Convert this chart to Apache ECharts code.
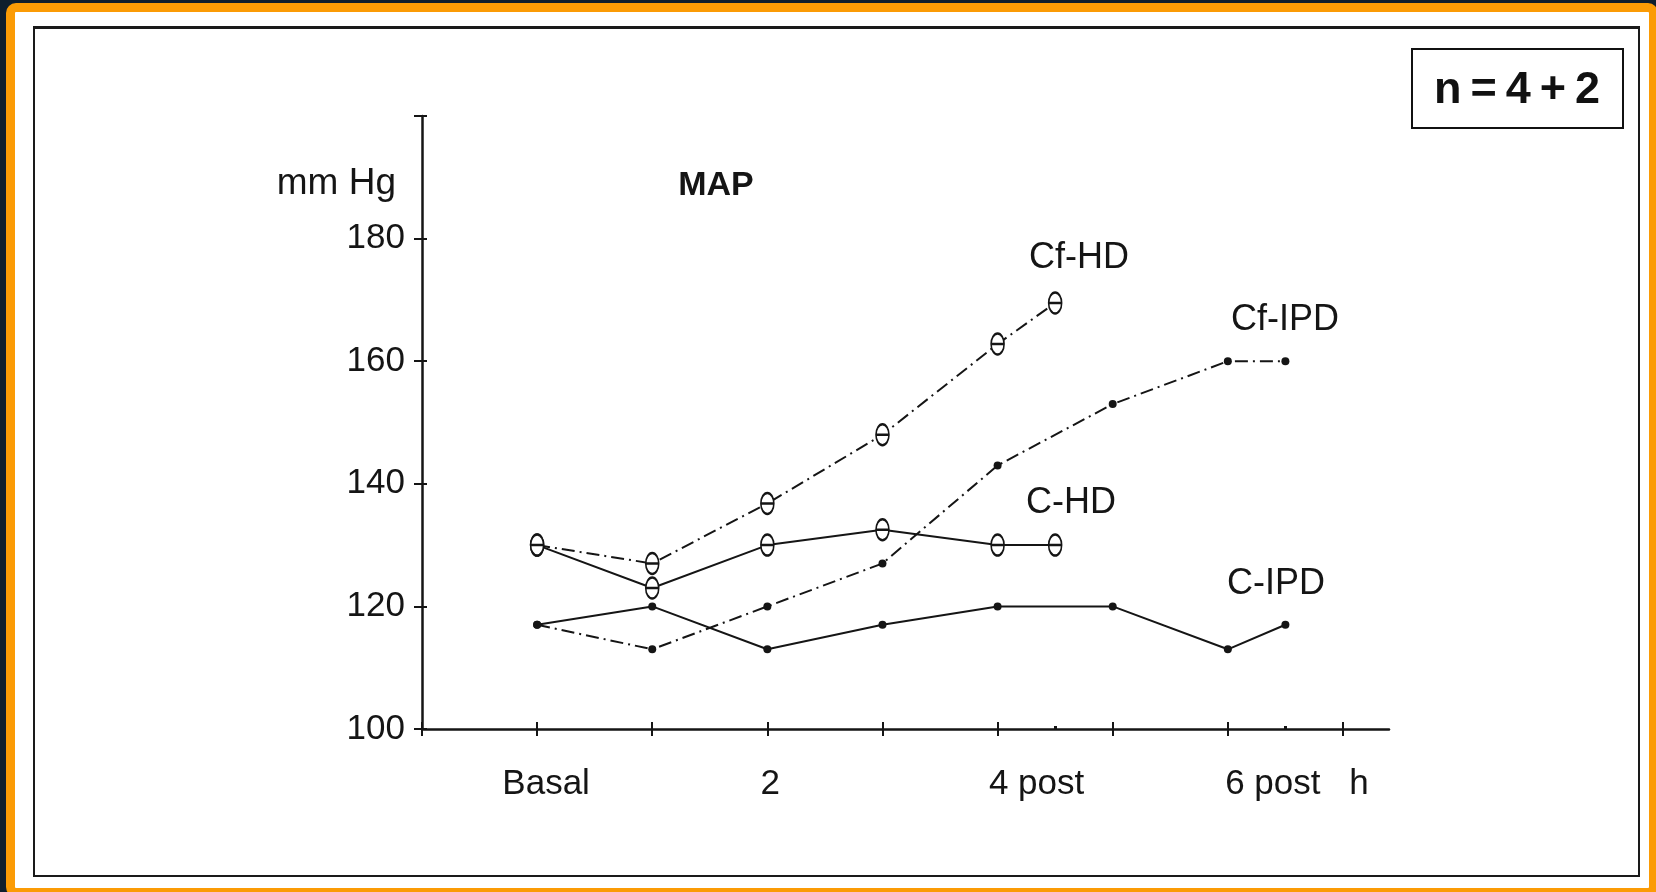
<!DOCTYPE html>
<html><head><meta charset="utf-8">
<script src="https://cdn.jsdelivr.net/npm/echarts@6/dist/echarts.min.js"></script>
<style>
html,body{margin:0;padding:0;width:1656px;height:892px;overflow:hidden;background:#0f1e2d;}
#frame{position:absolute;left:6px;top:3px;width:1652px;height:894px;box-sizing:border-box;border:9px solid #fb9b05;border-radius:10px;background:#fff;}
#inner{position:absolute;left:33px;top:26px;width:1607px;height:851px;box-sizing:border-box;border:2px solid #1a1a1a;border-top-width:3px;}
#chart{position:absolute;left:0;top:0;width:1656px;height:892px;}
</style></head><body>
<div id="frame"></div><div id="inner"></div><div id="chart"></div>
<script>
// ---- data ----
const hoursHD = [0, 1, 2, 3, 4, 4.5];
const hoursIPD = [0, 1, 2, 3, 4, 5, 6, 6.5];
const cHD = [130, 123, 130, 132.5, 130, 130];
const cfHD = [130, 127, 136.8, 148, 162.8, 169.5];
const cIPD = [117, 120, 113, 117, 120, 120, 113, 117];
const cfIPD = [117, 113, 120, 127, 143, 153, 160, 160];
const seriesNames = ['C-HD', 'Cf-HD', 'C-IPD', 'Cf-IPD'];
const xTickValues = [-1, 0, 1, 2, 3, 4, 5, 6, 7];
const xMinorTickValues = [4.5, 6.5];
const xLabelValues = [0, 2, 4, 6];
const xLabelTexts = ['Basal', '2', '4 post', '6 post'];
const yLabelValues = [100, 120, 140, 160, 180];
const yUnit = 'mm Hg';
const xUnit = 'h';
const chartTitle = 'MAP';
const nNote = 'n\u2009=\u20094\u2009+\u20092';

// ---- styling ----
const INK = '#151515';
const FONT = "'Liberation Sans', Arial, sans-serif";
const FS = 35;
const AFS = 36;
const ovalPath = 'path://M6 0C9.31 0 12 4.48 12 10C12 15.52 9.31 20 6 20C2.69 20 0 15.52 0 10C0 4.48 2.69 0 6 0ZM0 10L12 10';
const dashDot = [13, 5, 2, 5];

function zip(xs, ys) { return xs.map((x, i) => [x, ys[i]]); }

const chart = echarts.init(document.getElementById('chart'), null, {renderer: 'canvas'});

const xBase = {type: 'value', min: -1, max: 7.4, interval: 1, gridIndex: 0, position: 'bottom',
  splitLine: {show: false}};
const yBase = {type: 'value', min: 100, max: 200, interval: 20, gridIndex: 0, position: 'left',
  splitLine: {show: false}};

const labelRich = {
  b: {padding: [0, 0, 0, 18], fontSize: FS, fontFamily: FONT, color: INK},
  t: {padding: [0, 0, 0, 6], fontSize: FS, fontFamily: FONT, color: INK},
  p: {padding: [0, 0, 0, 78], fontSize: FS, fontFamily: FONT, color: INK},
  q: {padding: [0, 0, 0, 90], fontSize: FS, fontFamily: FONT, color: INK}
};
const richKeys = ['b', 't', 'p', 'q'];

function lineSeries(name, xs, ys, dashed, open) {
  return {
    name, type: 'line', data: zip(xs, ys), smooth: false,
    symbol: open ? ovalPath : 'circle',
    symbolSize: open ? [13, 21] : 8,
    showAllSymbol: true,
    lineStyle: {color: INK, width: 2, type: dashed ? dashDot : 'solid'},
    itemStyle: open ? {color: '#ffffff', borderColor: INK, borderWidth: 2} : {color: INK, borderWidth: 0},
    emphasis: {disabled: true}, animation: false, z: open ? 3 : 2
  };
}

const option = {
  animation: false,
  backgroundColor: 'transparent',
  grid: {left: 422, top: 116, right: 267, bottom: 163, containLabel: false},
  xAxis: [
    Object.assign({}, xBase, {
      axisLine: {show: true, onZero: false, lineStyle: {color: INK, width: 2.5}},
      axisTick: {show: true, inside: false, length: 7, customValues: xTickValues, lineStyle: {color: INK, width: 2}},
      axisLabel: {show: true, customValues: xLabelValues, margin: 38, color: INK, fontSize: FS, fontFamily: FONT,
        formatter: function (v) { const i = xLabelValues.indexOf(v); return i < 0 ? '' : '{' + richKeys[i] + '|' + xLabelTexts[i] + '}'; },
        rich: labelRich}
    }),
    Object.assign({}, xBase, {
      axisLine: {show: false, onZero: false},
      axisTick: {show: true, inside: true, length: 7, customValues: xTickValues, lineStyle: {color: INK, width: 2}},
      axisLabel: {show: false}
    }),
    Object.assign({}, xBase, {
      axisLine: {show: false, onZero: false},
      axisTick: {show: true, inside: true, length: 3, customValues: xMinorTickValues, lineStyle: {color: INK, width: 3}},
      axisLabel: {show: false}
    })
  ],
  yAxis: [
    Object.assign({}, yBase, {
      axisLine: {show: true, onZero: false, lineStyle: {color: INK, width: 2.5}},
      axisTick: {show: true, inside: false, length: 8, lineStyle: {color: INK, width: 2}},
      axisLabel: {show: true, customValues: yLabelValues, margin: 17, color: INK, fontSize: FS, fontFamily: FONT}
    }),
    Object.assign({}, yBase, {
      axisLine: {show: false, onZero: false},
      axisTick: {show: true, inside: true, length: 5, lineStyle: {color: INK, width: 2}},
      axisLabel: {show: false}
    })
  ],
  series: [
    lineSeries(seriesNames[0], hoursHD, cHD, false, true),
    lineSeries(seriesNames[1], hoursHD, cfHD, true, true),
    lineSeries(seriesNames[2], hoursIPD, cIPD, false, false),
    lineSeries(seriesNames[3], hoursIPD, cfIPD, true, false)
  ],
  graphic: [
    {type: 'text', x: 396, y: 184, style: {text: yUnit, font: '37px ' + FONT, fill: INK, align: 'right', verticalAlign: 'middle'}},
    {type: 'text', x: 716, y: 186, style: {text: chartTitle, font: 'bold 34px ' + FONT, fill: INK, align: 'center', verticalAlign: 'middle'}},
    {type: 'text', x: 1079, y: 258, style: {text: seriesNames[1], font: AFS + 'px ' + FONT, fill: INK, align: 'center', verticalAlign: 'middle'}},
    {type: 'text', x: 1285, y: 320, style: {text: seriesNames[3], font: AFS + 'px ' + FONT, fill: INK, align: 'center', verticalAlign: 'middle'}},
    {type: 'text', x: 1071, y: 503, style: {text: seriesNames[0], font: AFS + 'px ' + FONT, fill: INK, align: 'center', verticalAlign: 'middle'}},
    {type: 'text', x: 1276, y: 584, style: {text: seriesNames[2], font: AFS + 'px ' + FONT, fill: INK, align: 'center', verticalAlign: 'middle'}},
    {type: 'text', x: 1359, y: 784, style: {text: xUnit, font: FS + 'px ' + FONT, fill: INK, align: 'center', verticalAlign: 'middle'}},
    {type: 'rect', shape: {x: 1412, y: 49, width: 211, height: 79}, style: {fill: '#fff', stroke: '#111', lineWidth: 2}},
    {type: 'text', x: 1517, y: 91, style: {text: nNote, font: 'bold 45px ' + FONT, fill: '#111', align: 'center', verticalAlign: 'middle'}}
  ]
};
chart.setOption(option);
</script>
</body></html>
